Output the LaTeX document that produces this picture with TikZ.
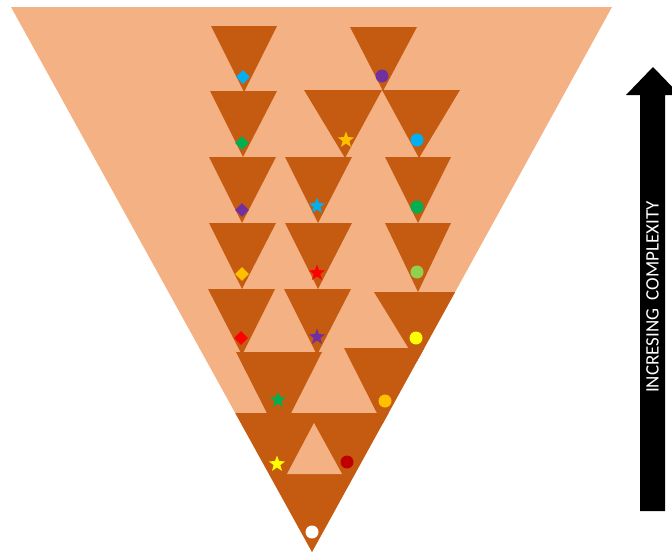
\documentclass[tikz,border=0pt]{standalone}
\usepackage{fontspec}
\setmainfont{Carlito}
\usetikzlibrary{shapes.geometric}

\definecolor{peach}{HTML}{F4B183}
\definecolor{rust}{HTML}{C55A11}
\definecolor{skyblue}{HTML}{00B0F0}
\definecolor{leafgreen}{HTML}{00B050}
\definecolor{violet}{HTML}{7030A0}
\definecolor{amber}{HTML}{FFC000}
\definecolor{brightred}{HTML}{FF0000}
\definecolor{lemon}{HTML}{FFFF00}
\definecolor{lime}{HTML}{92D050}
\definecolor{wine}{HTML}{C00000}

\begin{document}
\begin{tikzpicture}[x=1pt, y=-1pt,
  tri/.style={fill=rust},
  gem/.style={diamond, fill=#1, inner sep=0pt, minimum size=14pt},
  starmark/.style={star, star points=5, star point ratio=2.4, fill=#1,
                   inner sep=0pt, minimum size=17pt},
  dot/.style={circle, fill=#1, inner sep=0pt, minimum size=13pt},
]
\useasboundingbox (0,0) rectangle (672,554);
\clip (0,0) rectangle (672,554);

% big funnel
\fill[peach] (11,7) -- (612,7) -- (312,552) -- cycle;

\begin{scope}
\clip (11,7) -- (612,7) -- (312,552) -- cycle;
% row 1
\fill[tri] (211,26) -- (277,26) -- (244,92) -- cycle;
\fill[tri] (350,27) -- (417,27) -- (383,91) -- cycle;
% row 2
\fill[tri] (210,91) -- (277,91) -- (243,157) -- cycle;
\fill[tri] (304,90) -- (382,90) -- (345,158) -- cycle;
\fill[tri] (382,90) -- (460,90) -- (419,158) -- cycle;
% row 3
\fill[tri] (209,157) -- (276,157) -- (242,223) -- cycle;
\fill[tri] (285,157) -- (352,157) -- (318,223) -- cycle;
\fill[tri] (385,157) -- (451,157) -- (418,223) -- cycle;
% row 4
\fill[tri] (209,223) -- (276,223) -- (242,289) -- cycle;
\fill[tri] (285,223) -- (352,223) -- (318,289) -- cycle;
\fill[tri] (385,223) -- (451,223) -- (418,292) -- cycle;
% row 5
\fill[tri] (208,289) -- (275,289) -- (242,355) -- cycle;
\fill[tri] (284,289) -- (351,289) -- (317,355) -- cycle;
\fill[tri] (374,292) -- (460,292) -- (417,362) -- cycle;
% row 6
\fill[tri] (236,352) -- (322,352) -- (279,437) -- cycle;
\fill[tri] (344,348) -- (430,348) -- (387,433) -- cycle;
% tip, with its hole
\fill[tri] (225,413) -- (400,413) -- (312,560) -- cycle;
\fill[peach] (314,423) -- (342,474) -- (287,474) -- cycle;
\end{scope}

% left column
\node[gem=skyblue]   (g1) at (243,77) {};
\node[gem=leafgreen] (g2) at (242,143) {};
\node[gem=violet]    (g3) at (242,210) {};
\node[gem=amber]     (g4) at (242,274) {};
\node[gem=brightred] (g5) at (241,338) {};
% middle column
\node[starmark=amber]     (s1) at (346,140) {};
\node[starmark=skyblue]   (s2) at (317,206) {};
\node[starmark=brightred] (s3) at (317,273) {};
\node[starmark=violet]    (s4) at (317,337) {};
\node[starmark=leafgreen] (s5) at (278,400) {};
\node[starmark=lemon]     (s6) at (277,464) {};
% right column
\node[dot=violet]    (c1) at (382,76) {};
\node[dot=skyblue]   (c2) at (417,140) {};
\node[dot=leafgreen] (c3) at (417,207) {};
\node[dot=lime]      (c4) at (417,272) {};
\node[dot=lemon]     (c5) at (416,338) {};
\node[dot=amber]     (c6) at (385,401) {};
\node[dot=wine]      (c7) at (347,462) {};
\node[dot=white]     (c8) at (312,532) {};

% complexity arrow
\fill[black] (640,511) -- (640,95) -- (626,95) -- (653,67) -- (680,95)
  -- (665,95) -- (665,511) -- cycle;
\node[rotate=90, text=white, font=\fontsize{19}{22}\selectfont] (lbl)
  at (652.5,297) {INCRESING\ \ COMPLEXITY};
\end{tikzpicture}
\end{document}
